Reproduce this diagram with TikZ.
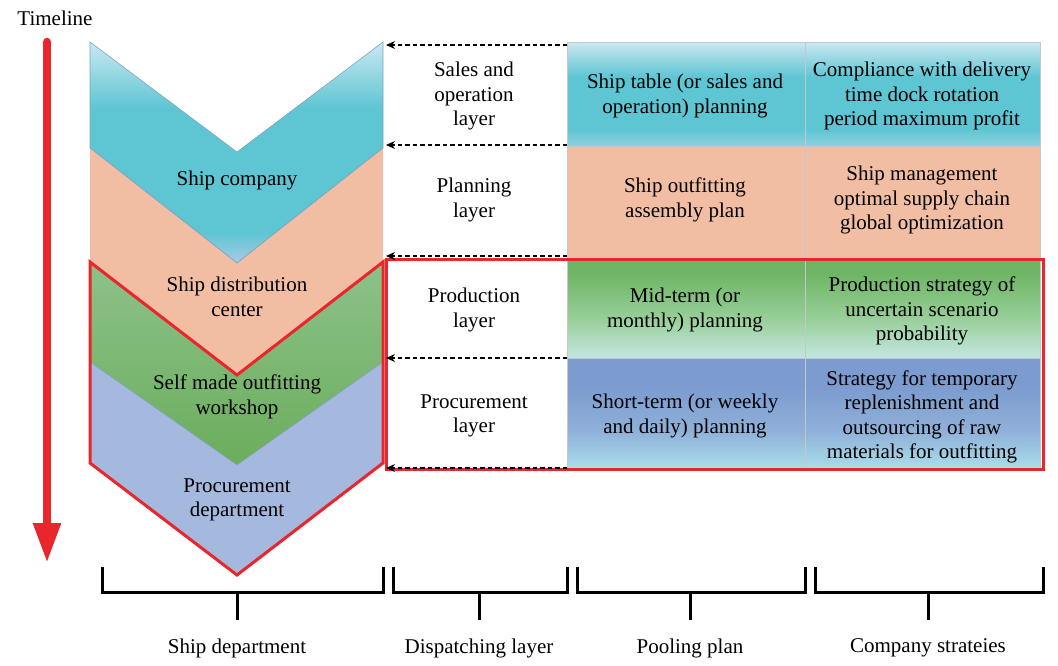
\documentclass[tikz,border=0pt]{standalone}
\usepackage{fontspec}
\setmainfont{Liberation Serif}
\usetikzlibrary{arrows.meta}
\definecolor{myred}{HTML}{E8262B}
\definecolor{chevline}{HTML}{7DA3C6}
\definecolor{cellline}{HTML}{C4C8CC}
\definecolor{ltblue}{HTML}{C9E8F1}
\definecolor{teal}{HTML}{5EC5D3}
\definecolor{tealb}{HTML}{8FD2DF}
\definecolor{tiptone}{HTML}{A6CBE5}
\definecolor{peach}{HTML}{F2BEA3}
\definecolor{gtop}{HTML}{8CC28A}
\definecolor{gmid}{HTML}{B7DBB3}
\definecolor{gbot}{HTML}{6CAD5C}
\definecolor{pblue}{HTML}{A4B9DD}
\definecolor{rgtop}{HTML}{6DB464}
\definecolor{rgmid}{HTML}{98CF98}
\definecolor{rgbot}{HTML}{C4E6E2}
\definecolor{rbtop}{HTML}{7C9BCF}
\definecolor{rbmid}{HTML}{8FB0D8}
\definecolor{rbbot}{HTML}{A9DDEA}
\pgfdeclareverticalshading{chevblueshade}{100bp}{color(0bp)=(tiptone); color(25bp)=(tiptone); color(32bp)=(teal); color(60bp)=(teal); color(75bp)=(ltblue); color(100bp)=(ltblue)}
\pgfdeclareverticalshading{rowblueshade}{100bp}{color(0bp)=(tealb); color(25bp)=(tealb); color(33bp)=(teal); color(58bp)=(teal); color(75bp)=(ltblue); color(100bp)=(ltblue)}
\pgfdeclareverticalshading{rowgreenshade}{100bp}{color(0bp)=(rgbot); color(25bp)=(rgbot); color(45bp)=(rgmid); color(68bp)=(rgtop); color(75bp)=(rgtop); color(100bp)=(rgtop)}
\pgfdeclareverticalshading{rowbluetwoshade}{100bp}{color(0bp)=(rbbot); color(25bp)=(rbbot); color(42bp)=(rbmid); color(62bp)=(rbtop); color(75bp)=(rbtop); color(100bp)=(rbtop)}
\begin{document}
\begin{tikzpicture}[x=1pt,y=-1pt,
  txt/.style={align=center, font=\fontsize{21}{24.5}\selectfont, inner sep=0pt},
  chev/.style={draw=chevline, line width=0.6pt},
  cell/.style={draw=cellline, line width=0.6pt},
  redline/.style={draw=myred, line width=3pt, line join=miter},
  dasharrow/.style={dash pattern=on 4.5pt off 3pt, line width=1.2pt, -{Stealth[length=9pt,width=8pt]}},
  bracket/.style={line width=3pt, line join=miter},
]
\useasboundingbox (0,0) rectangle (1058,665);

% timeline
\node[txt] (tl) at (55,18) {Timeline};
\coordinate (tlA) at (47,42);
\coordinate (tlB) at (47,563);
\draw[myred, line width=8.5pt, line cap=round, -{Triangle[length=40pt,width=26pt]}] (tlA) -- (tlB);

% chevrons
\shade[shading=chevblueshade]
  (90,42) -- (237,152) -- (383,42) -- (383,148) -- (237,263) -- (90,148) -- cycle;
\draw[chev] (90,42) -- (237,152) -- (383,42) -- (383,148) -- (237,263) -- (90,148) -- cycle;
\fill[peach] (90,148) -- (237,263) -- (383,148) -- (383,262) -- (237,375) -- (90,262) -- cycle;
\draw[chev] (90,148) -- (237,263) -- (383,148);
\shade[top color=gtop, middle color=gmid, bottom color=gbot]
  (90,262) -- (237,375) -- (383,262) -- (383,362) -- (237,465) -- (90,362) -- cycle;
\fill[pblue] (90,362) -- (237,465) -- (383,362) -- (383,463) -- (237,575) -- (90,463) -- cycle;
\draw[chev] (90,362) -- (237,465) -- (383,362);

% table cells
\shade[shading=rowblueshade] (567,42) rectangle (1040,146);
\fill[peach] (567,146) rectangle (1040,258);
\shade[shading=rowgreenshade] (567,258) rectangle (1040,358);
\shade[shading=rowbluetwoshade] (567,358) rectangle (1040,468);
\draw[cell] (567,42) rectangle (1040,468);
\draw[cell] (567,146) -- (1040,146);
\draw[cell] (567,358) -- (1040,358);
\draw[cell] (805,42) -- (805,468);

% red outlines
\draw[redline] (90,262) -- (237,375) -- (383,262) -- (383,463) -- (237,575) -- (90,463) -- cycle;
\draw[redline] (386,259) rectangle (1043,469);

% dashed arrows
\foreach \y [count=\i] in {45,145,256,358,468}{
  \coordinate (ts\i) at (567,\y);
  \coordinate (ce\i) at (386,\y);
  \draw[dasharrow] (ts\i) -- (ce\i);
}

% chevron texts
\node[txt] (sc) at (237,180) {Ship company};
\node[txt] (sdc) at (237,297) {Ship distribution\\center};
\node[txt] (smo) at (237,397) {Self made outfitting\\workshop};
\node[txt] (pd) at (237,500) {Procurement\\department};

% dispatching texts
\node[txt] (d1) at (474,96) {Sales and\\operation\\layer};
\node[txt] (d2) at (474,200) {Planning\\layer};
\node[txt] (d3) at (474,310) {Production\\layer};
\node[txt] (d4) at (474,416) {Procurement\\layer};

% pooling texts
\node[txt] (p1) at (685,96) {Ship table (or sales and\\operation) planning};
\node[txt] (p2) at (685,200) {Ship outfitting\\assembly plan};
\node[txt] (p3) at (685,310) {Mid-term (or\\monthly) planning};
\node[txt] (p4) at (685,416) {Short-term (or weekly\\and daily) planning};

% company texts
\node[txt] (c1) at (922,96) {Compliance with delivery\\time dock rotation\\period maximum profit};
\node[txt] (c2) at (922,200) {Ship management\\optimal supply chain\\global optimization};
\node[txt] (c3) at (922,311) {Production strategy of\\uncertain scenario\\probability};
\node[txt] (c4) at (922,417) {Strategy for temporary\\replenishment and\\outsourcing of raw\\materials for outfitting};

% brackets
\draw[bracket] (102,567) -- (102,592) -- (383,592) -- (383,567);
\draw[bracket] (237,592) -- (237,620);
\draw[bracket] (393,567) -- (393,592) -- (567,592) -- (567,567);
\draw[bracket] (479,592) -- (479,620);
\draw[bracket] (577,567) -- (577,592) -- (805,592) -- (805,567);
\draw[bracket] (690,592) -- (690,620);
\draw[bracket] (815,567) -- (815,592) -- (1043,592) -- (1043,567);
\draw[bracket] (928,592) -- (928,620);

\node[txt] (l1) at (237,648) {Ship department};
\node[txt] (l2) at (479,648) {Dispatching layer};
\node[txt] (l3) at (690,648) {Pooling plan};
\node[txt] (l4) at (928,648) {Company strateies};
\end{tikzpicture}
\end{document}
